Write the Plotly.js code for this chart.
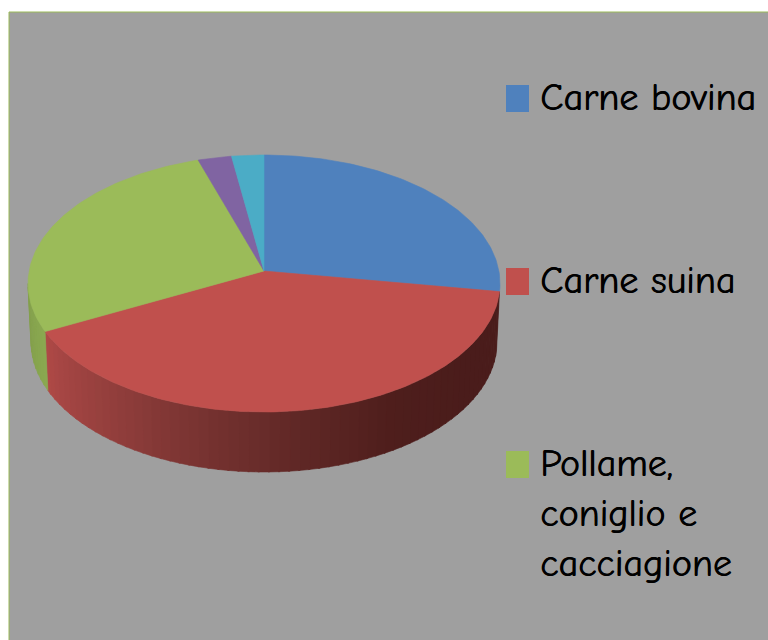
<!DOCTYPE html>
<html>
<head>
<meta charset="utf-8">
<script src="https://cdn.plot.ly/plotly-3.0.1.min.js"></script>
<style>html,body{margin:0;padding:0;background:#fff;overflow:hidden}#chart{width:768px;height:640px}</style>
</head>
<body>
<div id="chart"></div>
<script>
// Data (share of the pie, clockwise from 12 o'clock)
var categories = ['Carne bovina', 'Carne suina', 'Pollame, coniglio e cacciagione', 'Quarta voce', 'Quinta voce'];
var values = [26, 42.9, 26.6, 2.3, 2.2];
var colors = ['#4f81bd', '#c0504d', '#9bbb59', '#8064a2', '#4bacc6'];
var legendLines = [['Carne bovina'], ['Carne suina'], ['Pollame,', 'coniglio e', 'cacciagione']];

// Projection of the 3D pie (chart units equal page pixels)
var apex = {x: 264, y: 271};
var topE = {cx: 264, cy: 283.5, rx: 236, ry: 128.5};
var botE = {cx: 264, cy: 342, rx: 233, ry: 130};
function pt(e, deg) {
  var r = deg * Math.PI / 180;
  return [e.cx + e.rx * Math.sin(r), e.cy - e.ry * Math.cos(r)];
}
var total = values.reduce(function (a, b) { return a + b; }, 0);
var starts = [], ends = [], acc = 0;
values.forEach(function (v) {
  starts.push(acc / total * 360);
  acc += v;
  ends.push(acc / total * 360);
});
function mix(a, b, f) {
  return 'rgb(' + a.map(function (c, i) { return Math.round(c + (b[i] - c) * f); }).join(',') + ')';
}
var traces = [];
function poly(xs, ys, color, name) {
  traces.push({type: 'scatter', mode: 'lines', x: xs, y: ys, fill: 'toself', fillcolor: color,
    line: {width: 0.6, color: color}, hoverinfo: name ? 'name' : 'skip', name: name || '', showlegend: false});
}
function wall(a, b, stops) {
  var step = 2.5;
  for (var t = a; t < b; t += step) {
    var t2 = Math.min(t + step + 0.4, b);
    var p = pt(topE, t), q = pt(topE, t2), r = pt(botE, t2), s = pt(botE, t);
    var f = (t - stops.from) / (stops.to - stops.from);
    f = Math.max(0, Math.min(1, f));
    var i = Math.min(Math.floor(f * (stops.cols.length - 1)), stops.cols.length - 2);
    var loc = f * (stops.cols.length - 1) - i;
    poly([p[0], q[0], r[0], s[0], p[0]], [p[1], q[1], r[1], s[1], p[1]],
      mix(stops.cols[i], stops.cols[i + 1], loc));
  }
}
// Side walls: only the parts facing the viewer
wall(ends[0], ends[1], {from: ends[1], to: ends[0],
  cols: [[176, 74, 71], [150, 64, 62], [122, 52, 50], [96, 40, 38], [78, 30, 28], [74, 28, 27], [74, 28, 27]]});
wall(ends[1], 270, {from: ends[1], to: 270, cols: [[138, 168, 80], [130, 158, 74]]});

// Top faces
values.forEach(function (v, i) {
  var xs = [apex.x], ys = [apex.y];
  for (var t = starts[i]; t < ends[i]; t += 1) {
    var p = pt(topE, t); xs.push(p[0]); ys.push(p[1]);
  }
  var e = pt(topE, ends[i]); xs.push(e[0], apex.x); ys.push(e[1], apex.y);
  poly(xs, ys, colors[i], categories[i]);
});

// Legend
var swatchY = [85, 268, 451];
var shapes = [{type: 'rect', layer: 'below', xref: 'x', yref: 'y', x0: 9, y0: 12, x1: 790, y1: 660,
  fillcolor: '#9f9f9f', line: {color: '#9bbb59', width: 1}}];
var annotations = [];
var fontFam = '"Comic Sans MS", "Comic Neue", Lato, "Noto Sans", sans-serif';
legendLines.forEach(function (lines, i) {
  shapes.push({type: 'rect', xref: 'x', yref: 'y', x0: 506, x1: 529, y0: swatchY[i], y1: swatchY[i] + 27,
    fillcolor: colors[i], line: {width: 0}});
  lines.forEach(function (txt, j) {
    annotations.push({xref: 'x', yref: 'y', x: 538, y: swatchY[i] + 13 + j * 50, text: txt, showarrow: false,
      xanchor: 'left', yanchor: 'middle', align: 'left',
      font: {family: fontFam, size: 38, color: '#000', shadow: '0.6px 0 0 #000'}});
  });
});

Plotly.newPlot('chart', traces, {
  width: 768, height: 640, margin: {l: 0, r: 0, t: 0, b: 0},
  paper_bgcolor: '#ffffff', plot_bgcolor: '#ffffff', showlegend: false,
  xaxis: {range: [0, 768], visible: false, fixedrange: true},
  yaxis: {range: [640, 0], visible: false, fixedrange: true},
  shapes: shapes, annotations: annotations
}, {displayModeBar: false, staticPlot: true});
</script>
</body>
</html>
